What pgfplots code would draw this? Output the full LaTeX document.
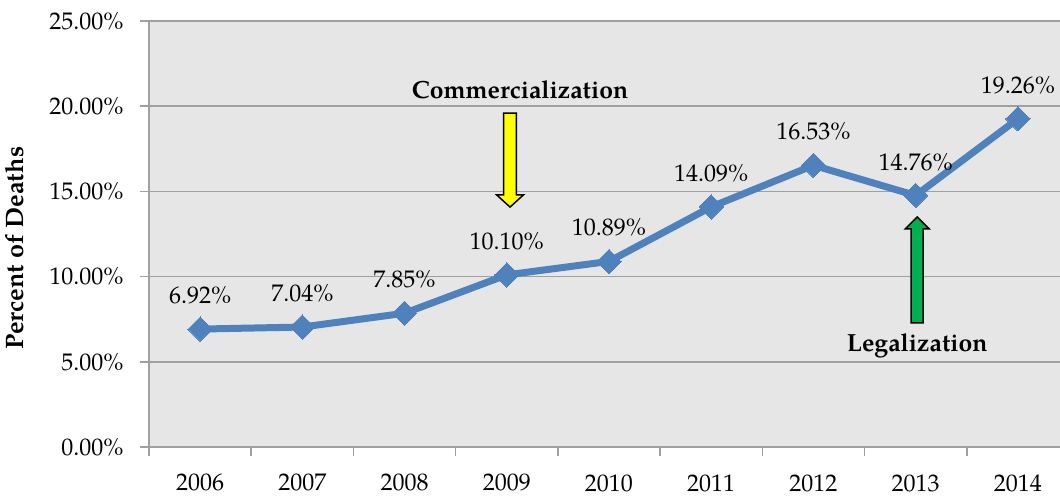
\documentclass[border=0pt]{standalone}
\usepackage{pgfplots}
\pgfplotsset{compat=1.18}
\usepackage{fontspec}
\setmainfont{TeX Gyre Pagella}
\definecolor{linec}{HTML}{4F81BD}
\definecolor{bgc}{HTML}{E6E6E6}
\definecolor{gridc}{HTML}{A0A0A0}
\definecolor{arrgreen}{HTML}{00B050}
\definecolor{arryellow}{HTML}{FFFF00}
\pgfplotstableread{
x y lab
0 6.92 6.92
1 7.04 7.04
2 7.85 7.85
3 10.10 10.10
4 10.89 10.89
5 14.09 14.09
6 16.53 16.53
7 14.76 14.76
8 19.26 19.26
}\deaths
\begin{document}
\fontsize{12pt}{14pt}\selectfont
\begin{tikzpicture}
\begin{axis}[
  scale only axis, width=460pt, height=213pt,
  xmin=-0.5, xmax=8.5, ymin=0, ymax=25,
  clip=false,
  axis background/.style={fill=bgc},
  axis x line*=bottom, axis y line*=left,
  axis line style={gridc, line width=0.75pt},
  tick align=outside, tick style={gridc, line width=0.75pt},
  major tick length=4.5pt,
  xtick={-0.5,0.5,...,8.5},
  xticklabels={2006,2007,2008,2009,2010,2011,2012,2013,2014,{}},
  xticklabel style={xshift=25.55pt, yshift=-5pt},
  ytick={0,5,...,25},
  yticklabels={0.00\%,5.00\%,10.00\%,15.00\%,20.00\%,25.00\%},
  yticklabel style={xshift=-4pt},
  ymajorgrids, grid style={gridc, line width=0.75pt},
  ylabel={\fontsize{12.6pt}{14pt}\selectfont\textbf{Percent of Deaths}},
  every axis y label/.style={at={(axis description cs:-0.1457,0.467)}, rotate=90, anchor=center},
]
\addplot[color=linec, line width=3.5pt, mark=square*, mark size=4.3pt,
  mark options={rotate=45, fill=linec, draw=linec, line width=0pt},
  point meta=explicit symbolic,
  nodes near coords={\pgfplotspointmeta\%},
  nodes near coords style={anchor=south, yshift=8.5pt, text=black}]
  table[x=x, y=y, meta=lab] {\deaths};
\draw[black, line width=0.75pt, fill=arryellow]
  (axis cs:2.970,19.6) -- (axis cs:3.094,19.6) -- (axis cs:3.094,14.8) -- (axis cs:3.164,14.8)
  -- (axis cs:3.032,14.08) -- (axis cs:2.900,14.8) -- (axis cs:2.970,14.8) -- cycle;
\draw[black, line width=0.75pt, fill=arrgreen]
  (axis cs:6.956,7.28) -- (axis cs:7.074,7.28) -- (axis cs:7.074,12.8) -- (axis cs:7.132,12.8)
  -- (axis cs:7.015,13.5) -- (axis cs:6.898,12.8) -- (axis cs:6.956,12.8) -- cycle;
\node[font=\fontsize{12.4pt}{14pt}\selectfont\bfseries] at (axis cs:3.13,20.95) {Commercialization};
\node[font=\fontsize{12.4pt}{14pt}\selectfont\bfseries] at (axis cs:7.015,5.93) {Legalization};
\end{axis}
\pgfresetboundingbox
\path[use as bounding box] (-74.5pt,-25pt) rectangle (455.5pt,223.5pt);
\end{tikzpicture}
\end{document}
